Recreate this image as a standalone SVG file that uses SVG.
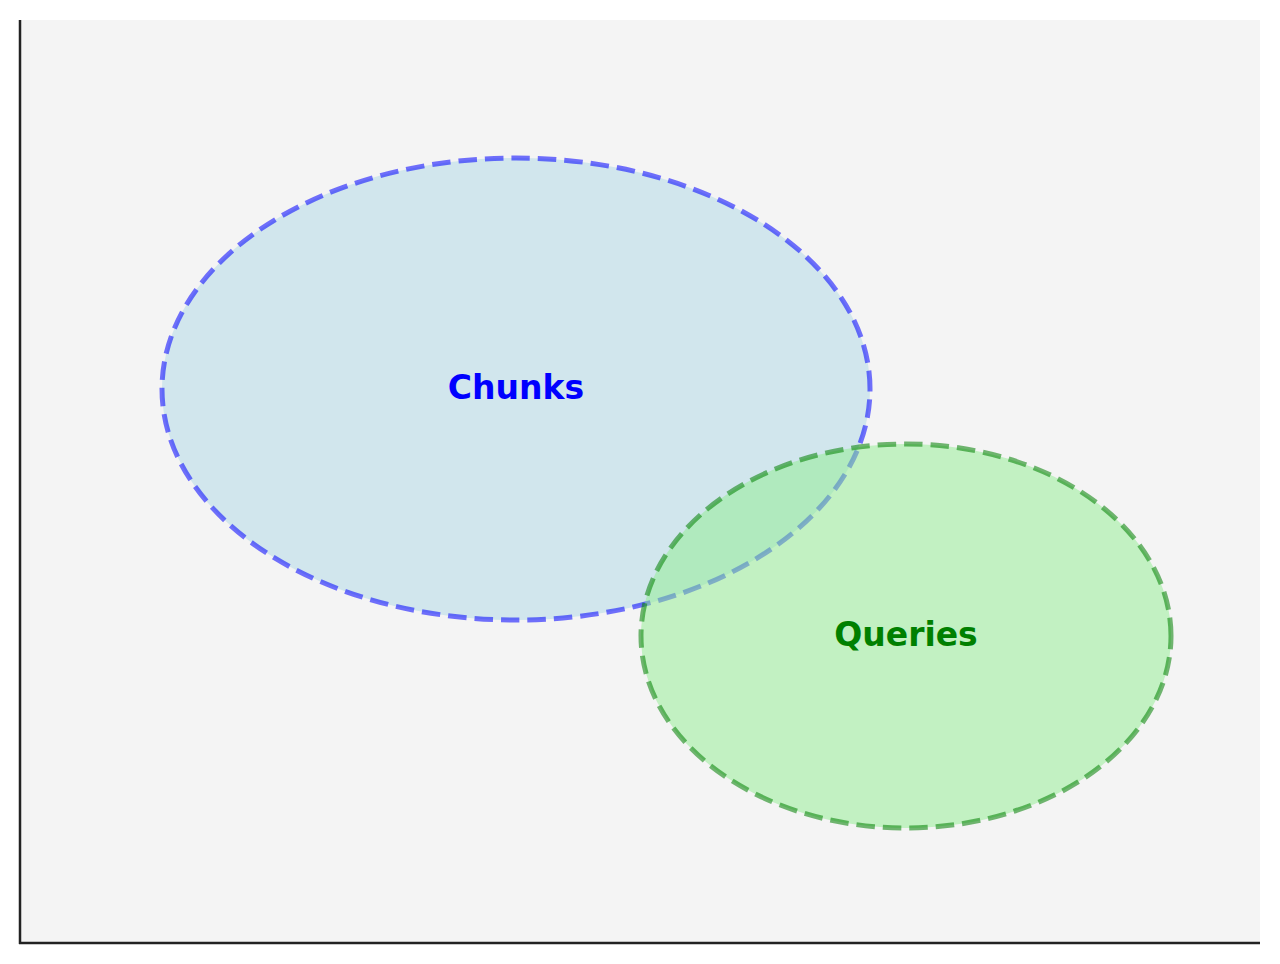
<svg xmlns="http://www.w3.org/2000/svg" width="1280" height="964" viewBox="0 0 1280 964">
<style>
.lbl{font-family:"DejaVu Sans",sans-serif;font-weight:bold;font-size:33px;text-anchor:middle}
.ring{stroke-width:5;stroke-dasharray:18.5 8}
</style>
<rect x="0" y="0" width="1280" height="964" fill="#ffffff"/>
<rect x="20" y="20" width="1240" height="923" fill="#f4f4f4"/>
<g id="chunks">
<path class="ring" d="M870,389 A354,231 0 0 0 162,389 A354,231 0 0 0 870,389 Z" fill="#add8e6" fill-opacity="0.5" stroke="#0000ff" stroke-opacity="0.55"/>
<text class="lbl" x="516" y="399" fill="#0000ff">Chunks</text>
</g>
<g id="queries">
<path class="ring" d="M1171,636 A265,192 0 0 0 641,636 A265,192 0 0 0 1171,636 Z" fill="#90ee90" fill-opacity="0.5" stroke="#008000" stroke-opacity="0.55"/>
<text class="lbl" x="906" y="646" fill="#008000">Queries</text>
</g>
<g id="axes" stroke="#222222" stroke-width="2.5" fill="none">
<line x1="20" y1="20" x2="20" y2="944"/>
<line x1="19" y1="943" x2="1260" y2="943"/>
</g>
</svg>
